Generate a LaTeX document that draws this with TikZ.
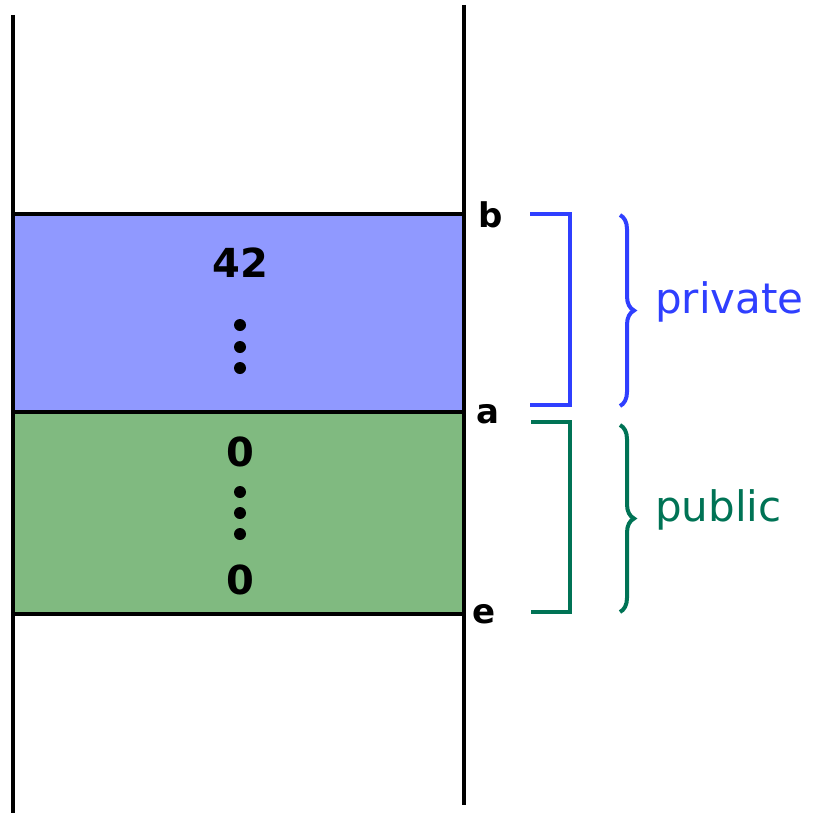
\documentclass[tikz,border=0pt]{standalone}
\usepackage{fontspec}
\setmainfont{DejaVu Sans}
\usetikzlibrary{decorations.pathreplacing}
\definecolor{privfill}{HTML}{9099FF}
\definecolor{pubfill}{HTML}{80BA80}
\definecolor{privcol}{HTML}{2F3FFF}
\definecolor{pubcol}{HTML}{007355}
\tikzset{
  wall/.style={line width=4.5pt,black},
  cell/.style={line width=4.5pt,draw=black},
  bracketline/.style={line width=3.5pt},
  bracelabel/.style={font=\fontsize{42}{42}\selectfont,anchor=west,inner sep=0pt},
  valtext/.style={font=\bfseries\fontsize{40}{40}\selectfont},
  ptr/.style={font=\bfseries\fontsize{34}{34}\selectfont},
  dot/.style={circle,fill=black,inner sep=0pt,minimum size=12pt},
  bracedeco/.style={decorate,decoration={brace,amplitude=14pt},line width=4pt}
}
\begin{document}
\begin{tikzpicture}[x=1pt,y=-1pt]
\useasboundingbox (0,0) rectangle (838,816);
% cells
\fill[privfill] (13,214) rectangle (464,412);
\fill[pubfill] (13,412) rectangle (464,614);
\draw[cell] (13,214) -- (464,214);
\draw[cell] (13,412) -- (464,412);
\draw[cell] (13,614) -- (464,614);
% walls
\coordinate (lt) at (13,15); \coordinate (lb) at (13,813);
\coordinate (rt) at (464,5); \coordinate (rb) at (464,805);
\draw[wall] (lt) -- (lb);
\draw[wall] (rt) -- (rb);
% values
\node[valtext] (v42) at (240,263) {42};
\node[dot] (d1) at (240,325) {};
\node[dot] (d2) at (240,347) {};
\node[dot] (d3) at (240,368) {};
\node[valtext] (z1) at (240,452) {0};
\node[dot] (d4) at (240,492) {};
\node[dot] (d5) at (240,513) {};
\node[dot] (d6) at (240,534) {};
\node[valtext] (z2) at (240,580) {0};
% pointers
\node[ptr] (pb) at (491,215) {b};
\node[ptr] (pa) at (488,414) {a};
\node[ptr] (pe) at (484,614) {e};
% brackets
\coordinate (bt1) at (530,214); \coordinate (bt2) at (570,214);
\coordinate (bb2) at (570,405); \coordinate (bb1) at (530,405);
\draw[bracketline,privcol] (bt1) -- (bt2) -- (bb2) -- (bb1);
\coordinate (gt1) at (531,422); \coordinate (gt2) at (570,422);
\coordinate (gb2) at (570,612); \coordinate (gb1) at (531,612);
\draw[bracketline,pubcol] (gt1) -- (gt2) -- (gb2) -- (gb1);
% braces
\coordinate (brt) at (620,215); \coordinate (brb) at (620,406);
\draw[bracedeco,privcol] (brt) -- (brb);
\coordinate (bgt) at (620,425); \coordinate (bgb) at (620,612);
\draw[bracedeco,pubcol] (bgt) -- (bgb);
\node[bracelabel,privcol] (lpriv) at (655,302) {private};
\node[bracelabel,pubcol] (lpub) at (655,510) {public};
\end{tikzpicture}
\end{document}
